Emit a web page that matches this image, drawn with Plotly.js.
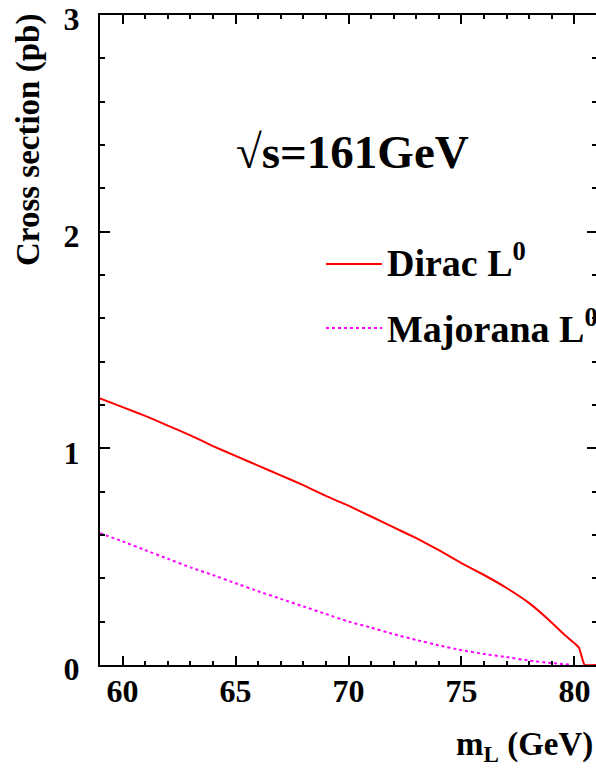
<!DOCTYPE html>
<html>
<head>
<meta charset="utf-8">
<script src="https://cdn.plot.ly/plotly-3.0.1.min.js"></script>
<style>
html,body{margin:0;padding:0;overflow:hidden;background:#fff;}
#chart{width:598px;height:769px;}
</style>
</head>
<body>
<div id="chart"></div>
<script>
// Data
const diracMass = [59, 60, 61, 62, 63, 64, 65, 66, 67, 68, 69, 70, 71, 72, 73, 74, 75, 76, 77, 78, 79, 79.5, 80, 80.2, 80.45, 81];
const diracXsec = [1.23, 1.19, 1.15, 1.105, 1.06, 1.01, 0.965, 0.92, 0.875, 0.83, 0.78, 0.735, 0.685, 0.635, 0.585, 0.53, 0.47, 0.415, 0.355, 0.285, 0.195, 0.145, 0.1, 0.08, 0, 0];
const majoranaMass = [59, 60, 61, 62, 63, 64, 65, 66, 67, 68, 69, 70, 71, 72, 73, 74, 75, 76, 77, 78, 79, 79.9];
const majoranaXsec = [0.608, 0.57, 0.53, 0.49, 0.45, 0.415, 0.377, 0.34, 0.305, 0.27, 0.235, 0.2, 0.172, 0.142, 0.115, 0.09, 0.068, 0.05, 0.036, 0.02, 0.008, 0];
const xTickVals = [60, 65, 70, 75, 80];
const yTickVals = [0, 1, 2, 3];
const seriesNames = ["Dirac L<sup>0</sup>", "Majorana L<sup>0</sup>"];

const serif = "Liberation Serif, Times New Roman, serif";

const traces = [
  {x: diracMass, y: diracXsec, mode: 'lines', name: seriesNames[0],
   line: {color: '#ff0000', width: 2, shape: 'spline', smoothing: 0.3}, showlegend: false},
  {x: majoranaMass, y: majoranaXsec, mode: 'lines', name: seriesNames[1],
   line: {color: '#ff00ff', width: 2, dash: 'dot', shape: 'spline', smoothing: 0.3}, showlegend: false}
];

const layout = {
  width: 598, height: 769,
  margin: {l: 100, r: 1, t: 15, b: 104, pad: 0},
  paper_bgcolor: '#fff', plot_bgcolor: '#fff',
  showlegend: false,
  xaxis: {
    range: [59, 81], showgrid: false, zeroline: false,
    showline: true, linecolor: '#000', linewidth: 2, mirror: 'ticks',
    ticks: 'inside', ticklen: 9, tickwidth: 2, tickcolor: '#000',
    tickvals: xTickVals, ticktext: xTickVals.map(String),
    ticklabelstandoff: -3, ticklabeloverflow: 'allow',
    tickfont: {family: serif, size: 32, color: '#000', weight: 'bold'},
    minor: {dtick: 1, ticks: 'inside', ticklen: 4, tickwidth: 2, tickcolor: '#000', showgrid: false}
  },
  yaxis: {
    range: [-0.0005, 3.0005], showgrid: false, zeroline: false,
    showline: true, linecolor: '#000', linewidth: 2, mirror: 'ticks',
    ticks: 'inside', ticklen: 10, tickwidth: 2, tickcolor: '#000',
    tickvals: yTickVals, ticktext: yTickVals.map(String),
    ticklabelstandoff: 12, ticklabeloverflow: 'allow', ticklabelshift: 4,
    tickfont: {family: serif, size: 32, color: '#000', weight: 'bold'},
    minor: {dtick: 0.2, ticks: 'inside', ticklen: 5, tickwidth: 2, tickcolor: '#000', showgrid: false}
  },
  shapes: [
    {type: 'line', xref: 'paper', yref: 'paper',
     x0: (326 - 100) / 497, x1: (382 - 100) / 497,
     y0: (665 - 264) / 650, y1: (665 - 264) / 650,
     line: {color: '#ff0000', width: 2}},
    {type: 'line', xref: 'paper', yref: 'paper',
     x0: (326 - 100) / 497, x1: (382 - 100) / 497,
     y0: (665 - 328) / 650, y1: (665 - 328) / 650,
     line: {color: '#ff00ff', width: 2, dash: 'dot'}}
  ],
  annotations: [
    {text: '√s=161GeV', xref: 'paper', yref: 'paper',
     x: (352 - 100) / 497, y: (665 - 152) / 650, xanchor: 'center', yanchor: 'middle',
     showarrow: false, font: {family: serif, size: 47, color: '#000', weight: 'bold'}},
    {text: seriesNames[0], xref: 'paper', yref: 'paper',
     x: (385 - 100) / 497, y: (665 - 260) / 650, xanchor: 'left', yanchor: 'middle',
     showarrow: false, font: {family: serif, size: 38, color: '#000', weight: 'bold'}},
    {text: seriesNames[1], xref: 'paper', yref: 'paper',
     x: (385 - 100) / 497, y: (665 - 326) / 650, xanchor: 'left', yanchor: 'middle',
     showarrow: false, font: {family: serif, size: 38, color: '#000', weight: 'bold'}},
    {text: 'Cross section (pb)', xref: 'paper', yref: 'paper',
     x: (28 - 100) / 497, y: (665 - 140) / 650, xanchor: 'center', yanchor: 'middle',
     textangle: -90, showarrow: false,
     font: {family: serif, size: 33, color: '#000', weight: 'bold'}},
    {text: 'm<sub>L</sub> (GeV)', xref: 'paper', yref: 'paper',
     x: (595 - 100) / 497, y: (665 - 747) / 650, xanchor: 'right', yanchor: 'middle',
     showarrow: false, font: {family: serif, size: 33, color: '#000', weight: 'bold'}}
  ]
};

Plotly.newPlot('chart', traces, layout, {displayModeBar: false, staticPlot: true});
</script>
</body>
</html>
